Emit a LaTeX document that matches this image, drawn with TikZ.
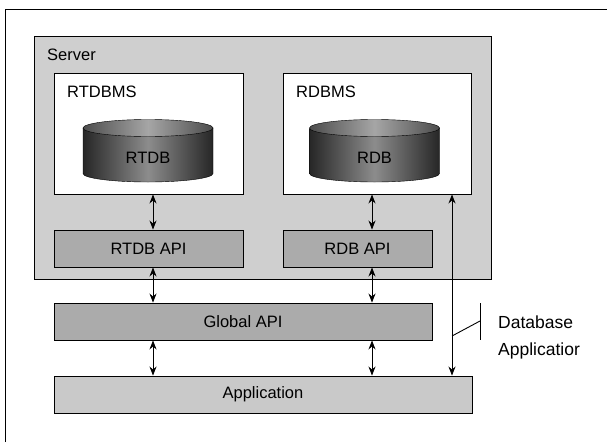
\documentclass[tikz,border=0pt]{standalone}
\usepackage{fontspec}
\setmainfont{Liberation Sans}
\usetikzlibrary{arrows.meta,calc}

% database drum: #1 centre x, #2 node name, #3 text
\newcommand{\dbdrum}[3]{%
\shadedraw[left color=black!85,right color=black!85,middle color=black!45,draw=black]
(#1-65,128) -- (#1-65,173.5) arc[start angle=180,end angle=0,x radius=65,y radius=8.5] -- (#1+65,128) -- cycle;
\shadedraw[left color=black!70,right color=black!70,middle color=black!35,draw=black]
(#1,128) ellipse[x radius=65,y radius=8.5];
\node[lbl] (#2) at (#1,158) {#3};
}

\tikzset{
lbl/.style={inner sep=0pt,font=\fontsize{16.5}{19}\selectfont},
box/.style={draw,line width=0.9pt,inner sep=0pt,font=\fontsize{16.5}{19}\selectfont},
apibox/.style={box,fill=black!33},
link/.style={{Stealth[length=9pt,width=7pt]}-{Stealth[length=9pt,width=7pt]},line width=0.9pt},
}

\begin{document}
\begin{tikzpicture}[x=1pt,y=-1pt]
\useasboundingbox (0,0) rectangle (607,442);
% frame of the page
\draw[line width=0.9pt] (5,442) -- (5,9) -- (607,9);

\node[box,fill=black!19,minimum width=457,minimum height=243] (server) at (262.5,157.5) {};
\node[lbl,anchor=west] at (47,55) {Server};

\node[box,fill=white,minimum width=189,minimum height=121] (rtdbms) at (148.5,133.5) {};
\node[lbl,anchor=west] at (67,92) {RTDBMS};
\node[box,fill=white,minimum width=188,minimum height=121] (rdbms) at (377,133.5) {};
\node[lbl,anchor=west] at (296,92) {RDBMS};

\dbdrum{148}{rtdb}{RTDB}
\dbdrum{374.5}{rdb}{RDB}

\node[apibox,minimum width=189,minimum height=37] (rtdbapi) at (148.5,248.5) {RTDB API};
\node[apibox,minimum width=149,minimum height=37] (rdbapi) at (357.5,248.5) {RDB API};
\node[apibox,minimum width=378,minimum height=37] (globalapi) at (243,321.5) {Global API};
\node[box,fill=black!21,minimum width=418,minimum height=37] (app) at (263,394.5) {Application};

\coordinate (rtdbx) at (153,0);
\coordinate (rdbx) at (372,0);
\coordinate (dbax) at (452,0);

\draw[link] (rtdbms.south -| rtdbx) -- (rtdbapi.north -| rtdbx);
\draw[link] (rtdbapi.south -| rtdbx) -- (globalapi.north -| rtdbx);
\draw[link] (globalapi.south -| rtdbx) -- (app.north -| rtdbx);
\draw[link] (rdbms.south -| rdbx) -- (rdbapi.north -| rdbx);
\draw[link] (rdbapi.south -| rdbx) -- (globalapi.north -| rdbx);
\draw[link] (globalapi.south -| rdbx) -- (app.north -| rdbx);
\draw[link] (rdbms.south -| dbax) -- (app.north -| dbax);

% callout
\coordinate (tick) at (480,321);
\draw[line width=0.9pt] (452,336) -- (tick);
\draw[line width=0.9pt] ($(tick)+(0,-18)$) -- ($(tick)+(0,19)$);
\node[lbl,anchor=west,align=left,font=\fontsize{17.5}{27}\selectfont] (dbapp) at (498,337) {Database\\Applicatior};
\end{tikzpicture}
\end{document}
